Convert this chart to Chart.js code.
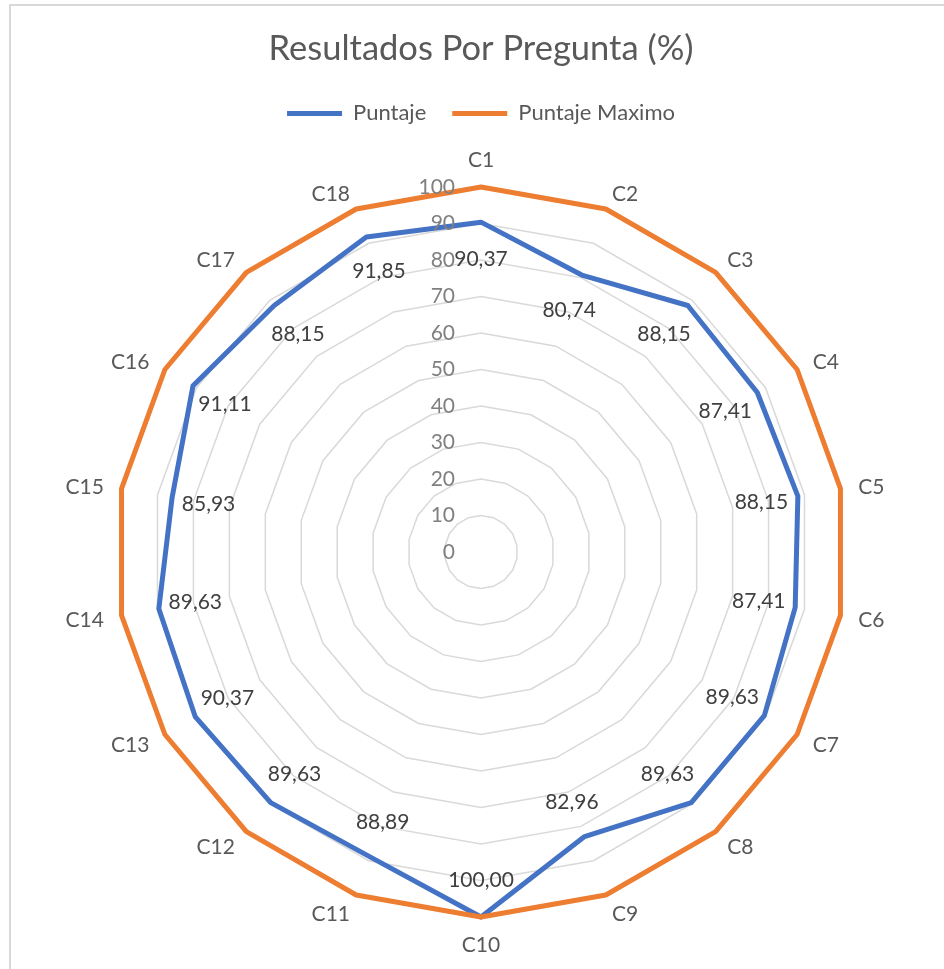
<!DOCTYPE html>
<html>
<head>
<meta charset="utf-8">
<script src="https://cdn.jsdelivr.net/npm/chart.js@4.4.1/dist/chart.umd.min.js"></script>
<style>
  html, body { margin: 0; padding: 0; background: #fff; overflow: hidden; }
  #frame { position: absolute; left: 9px; top: 4px; width: 980px; height: 1000px; border: 2px solid #d9d9d9; box-sizing: border-box; }
  #wrap { position: absolute; left: 0; top: 0; width: 944px; height: 969px; }
</style>
</head>
<body>
<div id="frame"></div>
<div id="wrap"><canvas id="radarChart" width="944" height="969"></canvas></div>
<script>
// Datos del grafico
const categories = ['C1', 'C2', 'C3', 'C4', 'C5', 'C6', 'C7', 'C8', 'C9', 'C10', 'C11', 'C12', 'C13', 'C14', 'C15', 'C16', 'C17', 'C18'];
const puntaje = [90.37, 80.74, 88.15, 87.41, 88.15, 87.41, 89.63, 89.63, 82.96, 100.00, 88.89, 89.63, 90.37, 89.63, 85.93, 91.11, 88.15, 91.85];
const puntajeMaximo = [100, 100, 100, 100, 100, 100, 100, 100, 100, 100, 100, 100, 100, 100, 100, 100, 100, 100];
const tickMin = 0;
const tickMax = 100;
const tickStep = 10;

const FONT = 'Lato, Calibri, "Open Sans", sans-serif';

// tick labels to the left of the vertical axis (right aligned)
const tickLabelsPlugin = {
    id: 'tickLabels',
    afterDraw(chart) {
        const scale = chart.scales.r;
        const ctx = chart.ctx;
        ctx.save();
        ctx.font = '21px ' + FONT;
        ctx.fillStyle = '#808080';
        ctx.textAlign = 'right';
        ctx.textBaseline = 'middle';
        scale.ticks.forEach(function(t) {
            const d = scale.getDistanceFromCenterForValue(t.value);
            ctx.fillText(String(t.value), scale.xCenter - 26, scale.yCenter - d);
        });
        ctx.restore();
    }
};

// category labels just outside the outer ring (Excel style placement)
const categoryLabelsPlugin = {
    id: 'categoryLabels',
    afterDraw(chart) {
        const scale = chart.scales.r;
        const ctx = chart.ctx;
        ctx.save();
        ctx.font = '21px ' + FONT;
        ctx.fillStyle = '#595959';
        categories.forEach(function(c, i) {
            const p = scale.getPointPosition(i, scale.drawingArea + 18);
            const deg = Math.round(i * 360 / categories.length);
            let y = p.y;
            if (deg === 0) {
                ctx.textAlign = 'center';
                ctx.textBaseline = 'bottom';
                y += 2;
            } else if (deg === 180) {
                ctx.textAlign = 'center';
                ctx.textBaseline = 'top';
            } else {
                ctx.textAlign = deg < 180 ? 'left' : 'right';
                ctx.textBaseline = 'middle';
                y += 2;
            }
            ctx.fillText(c, p.x, y);
        });
        ctx.restore();
    }
};

// data labels for the Puntaje series, placed inside the point
const dataLabelsPlugin = {
    id: 'dataLabels',
    afterDatasetsDraw(chart) {
        const scale = chart.scales.r;
        const ctx = chart.ctx;
        ctx.save();
        ctx.font = '21px ' + FONT;
        ctx.fillStyle = '#404040';
        ctx.textAlign = 'center';
        ctx.textBaseline = 'middle';
        puntaje.forEach(function(v, i) {
            const d = scale.getDistanceFromCenterForValue(v);
            const p = scale.getPointPosition(i, d - 37);
            ctx.fillText(v.toFixed(2).replace('.', ','), p.x, p.y);
        });
        ctx.restore();
    }
};

const ctx = document.getElementById('radarChart').getContext('2d');
const radarChart = new Chart(ctx, {
    type: 'radar',
    data: {
        labels: categories,
        datasets: [
            {
                label: 'Puntaje',
                data: puntaje,
                borderColor: '#4472C4',
                backgroundColor: '#4472C4',
                borderWidth: 5,
                borderJoinStyle: 'round',
                borderCapStyle: 'round',
                pointRadius: 0,
                fill: false,
                order: 1
            },
            {
                label: 'Puntaje Maximo',
                data: puntajeMaximo,
                borderColor: '#ED7D31',
                backgroundColor: '#ED7D31',
                borderWidth: 5,
                borderJoinStyle: 'round',
                borderCapStyle: 'round',
                pointRadius: 0,
                fill: false,
                order: 0
            }
        ]
    },
    options: {
        responsive: false,
        animation: false,
        layout: { padding: { left: 18, right: 0, top: 0, bottom: 0 } },
        plugins: {
            title: {
                display: true,
                text: 'Resultados Por Pregunta (%)',
                color: '#595959',
                font: { family: FONT, size: 34.5, weight: 'normal' },
                padding: { top: 28, bottom: 7 }
            },
            legend: {
                display: true,
                position: 'top',
                labels: {
                    color: '#595959',
                    font: { family: FONT, size: 22 },
                    usePointStyle: true,
                    pointStyle: 'line',
                    pointStyleWidth: 55,
                    padding: 26,
                    sort: function(a, b) { return a.datasetIndex - b.datasetIndex; }
                }
            },
            tooltip: { enabled: false }
        },
        scales: {
            r: {
                min: tickMin,
                max: tickMax,
                beginAtZero: true,
                ticks: { stepSize: tickStep, display: false },
                grid: { color: '#d9d9d9', lineWidth: 1.5 },
                angleLines: { display: false },
                pointLabels: { display: false },
                afterSetDimensions: function(scale) {
                    // fixed center / radius as in the original
                    scale.xCenter = 481;
                    scale.yCenter = 552;
                    scale.drawingArea = 365;
                }
            }
        }
    },
    plugins: [tickLabelsPlugin, categoryLabelsPlugin, dataLabelsPlugin]
});
</script>
</body>
</html>
